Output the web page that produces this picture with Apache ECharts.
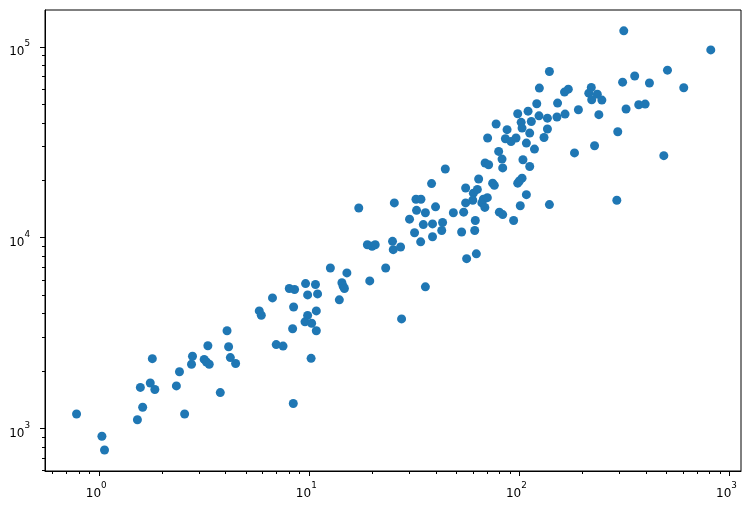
<!DOCTYPE html>
<html><head><meta charset="utf-8">
<script src="https://cdn.jsdelivr.net/npm/echarts@6/dist/echarts.min.js"></script>
<style>html,body{margin:0;padding:0;background:#fff}#c{width:753px;height:510px}</style>
</head><body><div id="c"></div>
<script>
const xValues = [0.78,1.03,1.06,1.52,1.57,1.61,1.75,1.79,1.84,2.33,2.41,2.55,2.75,2.78,3.16,3.24,3.29,3.34,3.77,4.06,4.13,4.21,4.46,
5.78,5.91,6.68,6.96,7.5,8.03,8.51,8.33,8.42,9.6,10.7,9.82,10.95,10.8,9.82,9.54,10.26,10.8,8.39,10.2,
12.6,15.1,14.3,14.5,14.7,13.9,19.4,23.1,27.5,35.7,17.2,25.4,32.2,34.0,32.4,35.7,30.0,34.9,31.7,33.9,
18.9,19.9,20.6,24.9,25.1,27.2,39.9,38.6,43.1,42.7,38.6,38.2,44.4,48.5,54.3,55.5,55.5,53.1,61.3,61.7,
56.1,62.4,64.0,60.4,63.1,60.0,66.3,67.4,70.4,68.5,68.7,71.4,70.6,139,124.5,164,171,220,214,221,235,247,
121,152,191,239,98.2,110,124,114,102,136,151,165,77.5,87.4,103,112,136,85.8,91.3,96.4,131,108,118,
79.7,82.7,83.3,104,112,183,228,74.6,76.0,103,100,98.2,108,101,139,80.3,83.3,93.9,
314,815,507,354,310,416,606,322,370,397,294,487,291];
const yValues = [1190,910,770,1110,1640,1290,1730,2320,1600,1670,1980,1190,2170,2390,2300,2230,2710,2170,1540,3250,2680,2350,2190,
4130,3920,4830,2750,2700,5410,5350,3330,4330,5740,5680,5010,5070,4130,3910,3620,3560,3250,1350,2330,
6930,6530,5800,5560,5410,4720,5930,6930,3750,5520,14300,15200,15900,15900,13900,13500,12500,11700,10600,9500,
9180,9010,9180,9560,8650,8930,14500,11800,12000,10900,10100,19200,22900,13500,13600,15200,18200,10700,10900,12300,
7760,8220,20300,17100,17900,15700,15200,15900,16200,14400,24600,24100,33300,74300,60800,57900,60000,61200,57200,52800,56500,52600,
50300,50700,46800,44100,44600,46000,43500,40600,40200,42300,42900,44400,39400,36800,37500,35300,37100,33000,31900,33300,33500,31300,29100,
28300,25800,23200,25600,23600,27800,30300,19300,18800,20500,19800,19300,16800,14700,14900,13600,13200,12300,
121300,96400,75500,70300,65300,64600,61000,47200,49700,50100,35900,26900,15700];
const xMajorTicks = [1, 10, 100, 1000];
const yMajorTicks = [1000, 10000, 100000];
const xMinorTicks = [0.6,0.7,0.8,0.9,2,3,4,5,6,7,8,9,20,30,40,50,60,70,80,90,200,300,400,500,600,700,800,900];
const yMinorTicks = [600,700,800,900,2000,3000,4000,5000,6000,7000,8000,9000,20000,30000,40000,50000,60000,70000,80000,90000];
const xRange = [0.552, 1135];
const yRange = [598, 156000];

const points = xValues.map((x, i) => [x, yValues[i]]);
const chart = echarts.init(document.getElementById('c'), null, {renderer: 'canvas'});
const rich = {
  b: {fontSize: 12, fontFamily: 'DejaVu Sans', color: '#000', lineHeight: 19, verticalAlign: 'bottom'},
  s: {fontSize: 8.8, fontFamily: 'DejaVu Sans', color: '#000', lineHeight: 11, verticalAlign: 'top'}
};
function powLabel(v) {
  const e = Math.round(Math.log10(v));
  return '{b|10}{s|' + e + '}';
}
const black = {color: '#000', width: 1};
function majorAxis(range, ticks, extra, labelExtra) {
  return Object.assign({
    type: 'log', logBase: 10, min: range[0], max: range[1],
    axisLine: {show: true, onZero: false, lineStyle: black},
    axisTick: {show: true, customValues: ticks, length: 5, lineStyle: black},
    axisLabel: Object.assign({show: true, customValues: ticks, formatter: powLabel, rich: rich}, labelExtra),
    splitLine: {show: false}, minorTick: {show: false}
  }, extra);
}
function minorAxis(range, ticks, extra) {
  return Object.assign({
    type: 'log', logBase: 10, min: range[0], max: range[1],
    axisLine: {show: false},
    axisTick: {show: true, customValues: ticks, length: 3, lineStyle: black},
    axisLabel: {show: false},
    splitLine: {show: false}
  }, extra);
}
chart.setOption({
  animation: false,
  backgroundColor: '#fff',
  grid: {left: 45, right: 12, top: 10, bottom: 39, containLabel: false, outerBoundsMode: 'none',
         show: true, borderColor: '#000', borderWidth: 1, backgroundColor: 'transparent'},
  xAxis: [majorAxis(xRange, xMajorTicks, {position: 'bottom'}, {margin: 10, padding: [0, 6, 0, 0]}),
          minorAxis(xRange, xMinorTicks, {position: 'bottom'})],
  yAxis: [majorAxis(yRange, yMajorTicks, {position: 'left'}, {margin: 15, padding: [4, 0, 0, 0]}),
          minorAxis(yRange, yMinorTicks, {position: 'left'})],
  series: [{
    type: 'scatter', xAxisIndex: 0, yAxisIndex: 0,
    data: points, symbol: 'circle', symbolSize: 9,
    itemStyle: {color: '#1f77b4', opacity: 1},
    emphasis: {disabled: true}
  }]
});
</script></body></html>
